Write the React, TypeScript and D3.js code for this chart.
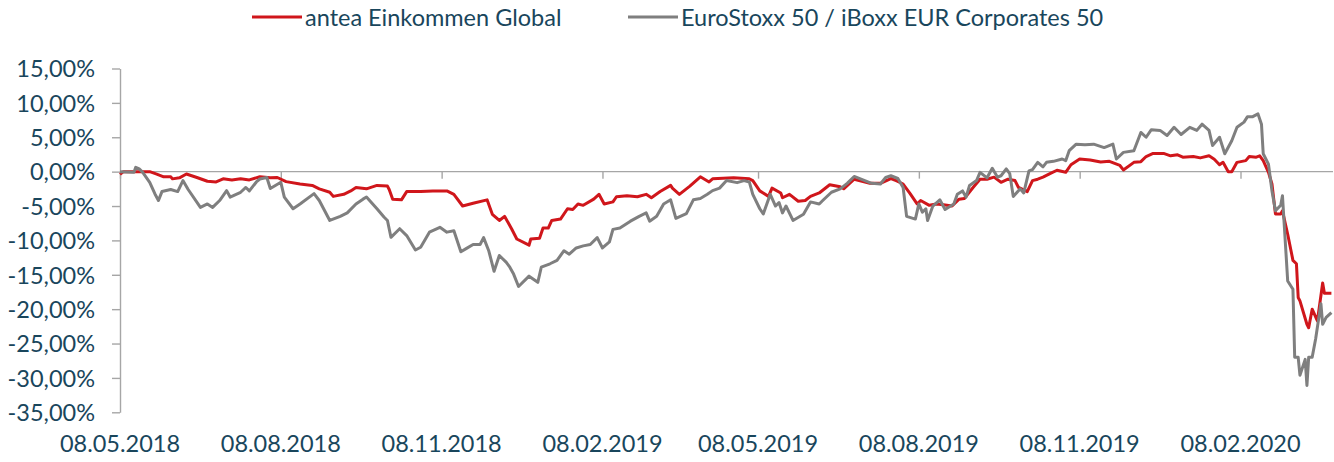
import React, { useEffect, useRef } from 'react';
import * as d3 from 'd3';

const seriesNames = ['antea Einkommen Global', 'EuroStoxx 50 / iBoxx EUR Corporates 50'];
const seriesColors = ['#d0161b', '#7f7f7f'];

const dateRange = ['2018-05-08', '2020-03-31'];
const xTickDates = [
  '2018-05-08', '2018-08-08', '2018-11-08', '2019-02-08',
  '2019-05-08', '2019-08-08', '2019-11-08', '2020-02-08',
];
const yTickValues = [15, 10, 5, 0, -5, -10, -15, -20, -25, -30, -35];

// performance in %
const anteaValues: [string, number][] = [
  ['2018-05-08', -0.4], ['2018-05-10', 0], ['2018-05-19', 0], ['2018-05-25', 0], ['2018-05-29', -0.35],
  ['2018-06-02', -0.75], ['2018-06-06', -0.75], ['2018-06-07', -1.05], ['2018-06-11', -0.9], ['2018-06-15', -0.35],
  ['2018-06-21', -0.85], ['2018-06-27', -1.4], ['2018-07-02', -1.5], ['2018-07-06', -1.05], ['2018-07-11', -1.2],
  ['2018-07-16', -1.05], ['2018-07-21', -1.2], ['2018-07-27', -0.75], ['2018-08-02', -0.9], ['2018-08-06', -0.85],
  ['2018-08-11', -1.45], ['2018-08-19', -1.8], ['2018-08-26', -2.0], ['2018-08-30', -2.5], ['2018-09-05', -3.0],
  ['2018-09-07', -3.6], ['2018-09-13', -3.3], ['2018-09-17', -2.8], ['2018-09-20', -2.3], ['2018-09-26', -2.5],
  ['2018-10-02', -2.0], ['2018-10-08', -2.1], ['2018-10-09', -2.6], ['2018-10-11', -4.0], ['2018-10-16', -4.1],
  ['2018-10-19', -2.9], ['2018-10-27', -2.9], ['2018-11-03', -2.8], ['2018-11-11', -2.8], ['2018-11-15', -3.3],
  ['2018-11-20', -5.0], ['2018-11-26', -4.6], ['2018-12-04', -4.1], ['2018-12-07', -6.2], ['2018-12-11', -7.1],
  ['2018-12-14', -6.5], ['2018-12-18', -8.3], ['2018-12-21', -9.8], ['2018-12-28', -10.7], ['2018-12-29', -9.8],
  ['2019-01-03', -9.7], ['2019-01-05', -8.2], ['2019-01-08', -8.2], ['2019-01-10', -7.1], ['2019-01-15', -6.9],
  ['2019-01-19', -5.4], ['2019-01-22', -5.5], ['2019-01-25', -4.7], ['2019-01-28', -4.9], ['2019-02-03', -4.0],
  ['2019-02-06', -3.3], ['2019-02-09', -4.7], ['2019-02-14', -4.4], ['2019-02-16', -3.65], ['2019-02-22', -3.5],
  ['2019-02-28', -3.65], ['2019-03-05', -3.3], ['2019-03-08', -3.8], ['2019-03-13', -2.9], ['2019-03-19', -2.0],
  ['2019-03-20', -2.4], ['2019-03-24', -3.3], ['2019-03-30', -2.1], ['2019-04-05', -0.75], ['2019-04-10', -1.5],
  ['2019-04-12', -1.05], ['2019-04-24', -0.9], ['2019-05-03', -1.05], ['2019-05-05', -1.3], ['2019-05-09', -2.8],
  ['2019-05-14', -3.6], ['2019-05-16', -2.4], ['2019-05-21', -3.1], ['2019-05-22', -3.8], ['2019-05-26', -3.3],
  ['2019-05-31', -4.3], ['2019-06-04', -4.2], ['2019-06-07', -3.6], ['2019-06-12', -3.1], ['2019-06-18', -1.9],
  ['2019-06-24', -2.2], ['2019-06-26', -2.5], ['2019-07-02', -1.1], ['2019-07-11', -1.7], ['2019-07-17', -1.7],
  ['2019-07-23', -1.0], ['2019-07-26', -1.3], ['2019-07-30', -1.8], ['2019-08-03', -3.2], ['2019-08-07', -4.7],
  ['2019-08-09', -4.2], ['2019-08-14', -4.9], ['2019-08-18', -4.7], ['2019-08-22', -4.8], ['2019-08-27', -5.0],
  ['2019-08-31', -4.0], ['2019-09-03', -3.9], ['2019-09-08', -2.3], ['2019-09-12', -1.1], ['2019-09-16', -1.1],
  ['2019-09-20', -0.8], ['2019-09-24', -1.55], ['2019-09-28', -1.1], ['2019-10-02', -1.3], ['2019-10-04', -2.3],
  ['2019-10-09', -2.9], ['2019-10-12', -1.3], ['2019-10-15', -1.1], ['2019-10-18', -0.8], ['2019-10-22', -0.3],
  ['2019-10-26', 0.2], ['2019-10-31', -0.1], ['2019-11-03', 1.0], ['2019-11-08', 1.85], ['2019-11-14', 1.7],
  ['2019-11-20', 1.4], ['2019-11-25', 1.5], ['2019-12-01', 0.9], ['2019-12-03', 0.25], ['2019-12-09', 1.35],
  ['2019-12-13', 1.45], ['2019-12-16', 2.2], ['2019-12-20', 2.65], ['2019-12-26', 2.65], ['2019-12-30', 2.3],
  ['2020-01-03', 2.45], ['2020-01-06', 2.1], ['2020-01-12', 2.2], ['2020-01-16', 2.0], ['2020-01-21', 2.3],
  ['2020-01-24', 1.8], ['2020-01-27', 1.0], ['2020-01-29', 1.35], ['2020-02-01', 0.0], ['2020-02-03', 0.0],
  ['2020-02-06', 1.35], ['2020-02-11', 1.6], ['2020-02-13', 2.2], ['2020-02-17', 2.1], ['2020-02-19', 2.3],
  ['2020-02-21', 1.6], ['2020-02-24', -0.1], ['2020-02-26', -1.8], ['2020-02-28', -6.15], ['2020-03-02', -6.15],
  ['2020-03-03', -5.7], ['2020-03-06', -9.1], ['2020-03-09', -12.9], ['2020-03-11', -13.4], ['2020-03-12', -18.3],
  ['2020-03-13', -18.8], ['2020-03-17', -22.2], ['2020-03-18', -22.7], ['2020-03-20', -20.0], ['2020-03-23', -21.7],
  ['2020-03-26', -16.2], ['2020-03-27', -17.7], ['2020-03-31', -17.7],
];

const benchmarkValues: [string, number][] = [
  ['2018-05-08', 0], ['2018-05-16', -0.1], ['2018-05-17', 0.63], ['2018-05-19', 0.4], ['2018-05-21', -0.1],
  ['2018-05-25', -1.55], ['2018-05-28', -3.25], ['2018-05-30', -4.2], ['2018-06-01', -2.9], ['2018-06-06', -2.6],
  ['2018-06-10', -2.9], ['2018-06-13', -1.3], ['2018-06-16', -2.6], ['2018-06-23', -5.2], ['2018-06-27', -4.7],
  ['2018-06-30', -5.2], ['2018-07-04', -4.2], ['2018-07-08', -2.76], ['2018-07-10', -3.7], ['2018-07-16', -3.0],
  ['2018-07-19', -2.3], ['2018-07-21', -2.8], ['2018-07-25', -1.5], ['2018-07-27', -1.07], ['2018-07-31', -0.85],
  ['2018-08-02', -2.45], ['2018-08-08', -1.55], ['2018-08-10', -3.7], ['2018-08-15', -5.4], ['2018-08-19', -4.7],
  ['2018-08-27', -3.2], ['2018-08-30', -4.2], ['2018-09-05', -7.1], ['2018-09-11', -6.5], ['2018-09-15', -6.0],
  ['2018-09-20', -4.7], ['2018-09-24', -4.0], ['2018-09-26', -3.7], ['2018-10-02', -5.4], ['2018-10-06', -6.6],
  ['2018-10-08', -7.1], ['2018-10-10', -9.55], ['2018-10-15', -8.3], ['2018-10-19', -9.3], ['2018-10-24', -11.4],
  ['2018-10-27', -11.0], ['2018-11-01', -8.8], ['2018-11-07', -8.1], ['2018-11-11', -8.8], ['2018-11-15', -8.6],
  ['2018-11-19', -11.65], ['2018-11-22', -11.2], ['2018-11-26', -10.6], ['2018-11-30', -10.6], ['2018-12-02', -9.6],
  ['2018-12-05', -11.55], ['2018-12-08', -14.5], ['2018-12-11', -12.2], ['2018-12-15', -13.2], ['2018-12-17', -13.9],
  ['2018-12-19', -14.8], ['2018-12-22', -16.7], ['2018-12-28', -15.2], ['2019-01-02', -16.1], ['2019-01-04', -13.9],
  ['2019-01-09', -13.4], ['2019-01-13', -12.9], ['2019-01-17', -11.5], ['2019-01-20', -12.0], ['2019-01-24', -11.1],
  ['2019-01-28', -10.8], ['2019-02-01', -10.6], ['2019-02-05', -9.6], ['2019-02-08', -11.1], ['2019-02-12', -10.2],
  ['2019-02-14', -8.4], ['2019-02-18', -8.2], ['2019-02-24', -7.2], ['2019-03-01', -6.5], ['2019-03-05', -6.0],
  ['2019-03-07', -7.2], ['2019-03-11', -6.5], ['2019-03-15', -4.7], ['2019-03-19', -4.1], ['2019-03-22', -6.8],
  ['2019-03-28', -6.1], ['2019-04-01', -4.1], ['2019-04-05', -3.9], ['2019-04-09', -3.3], ['2019-04-12', -2.76],
  ['2019-04-16', -2.4], ['2019-04-20', -1.3], ['2019-04-26', -1.6], ['2019-04-30', -1.3], ['2019-05-03', -1.5],
  ['2019-05-05', -3.3], ['2019-05-09', -5.4], ['2019-05-11', -6.15], ['2019-05-15', -3.3], ['2019-05-18', -5.0],
  ['2019-05-20', -4.5], ['2019-05-22', -6.0], ['2019-05-24', -5.0], ['2019-05-28', -7.1], ['2019-06-03', -6.2],
  ['2019-06-07', -4.4], ['2019-06-12', -4.7], ['2019-06-14', -4.2], ['2019-06-19', -3.0], ['2019-06-24', -2.5],
  ['2019-06-28', -1.7], ['2019-07-02', -0.7], ['2019-07-07', -1.2], ['2019-07-12', -1.7], ['2019-07-17', -1.8],
  ['2019-07-20', -0.85], ['2019-07-23', -0.6], ['2019-07-27', -1.0], ['2019-07-30', -2.3], ['2019-08-01', -6.5],
  ['2019-08-06', -6.9], ['2019-08-08', -4.7], ['2019-08-10', -5.9], ['2019-08-12', -5.4], ['2019-08-13', -7.1],
  ['2019-08-16', -5.0], ['2019-08-20', -4.1], ['2019-08-23', -5.5], ['2019-08-28', -4.7], ['2019-08-30', -3.3],
  ['2019-09-02', -2.8], ['2019-09-04', -3.7], ['2019-09-06', -2.0], ['2019-09-10', -1.3], ['2019-09-12', -0.1],
  ['2019-09-16', -0.9], ['2019-09-19', 0.5], ['2019-09-22', -0.8], ['2019-09-24', -0.6], ['2019-09-27', 0.4],
  ['2019-09-29', -0.3], ['2019-10-01', -3.6], ['2019-10-05', -2.5], ['2019-10-07', -3.1], ['2019-10-10', 0.1],
  ['2019-10-12', 0.3], ['2019-10-15', 1.35], ['2019-10-18', 0.7], ['2019-10-20', 1.35], ['2019-10-24', 1.5],
  ['2019-10-29', 1.84], ['2019-10-31', 1.6], ['2019-11-02', 3.05], ['2019-11-06', 4.0], ['2019-11-11', 3.9],
  ['2019-11-16', 4.0], ['2019-11-22', 3.5], ['2019-11-27', 4.0], ['2019-11-29', 1.84], ['2019-12-03', 2.8],
  ['2019-12-09', 3.05], ['2019-12-13', 5.7], ['2019-12-16', 5.0], ['2019-12-19', 6.1], ['2019-12-24', 6.0],
  ['2019-12-28', 5.25], ['2020-01-01', 6.45], ['2020-01-05', 5.4], ['2020-01-10', 6.45], ['2020-01-14', 6.0],
  ['2020-01-17', 6.9], ['2020-01-21', 6.0], ['2020-01-23', 3.8], ['2020-01-27', 5.0], ['2020-01-30', 2.6],
  ['2020-02-03', 4.5], ['2020-02-06', 6.45], ['2020-02-10', 7.2], ['2020-02-12', 8.0], ['2020-02-15', 8.0],
  ['2020-02-18', 8.4], ['2020-02-20', 6.9], ['2020-02-21', 2.6], ['2020-02-24', 1.1], ['2020-02-26', -2.8],
  ['2020-02-28', -5.7], ['2020-03-02', -4.9], ['2020-03-03', -3.5], ['2020-03-06', -15.9], ['2020-03-09', -17.1],
  ['2020-03-10', -27.0], ['2020-03-12', -27.0], ['2020-03-13', -29.6], ['2020-03-16', -27.3], ['2020-03-17', -31.1],
  ['2020-03-18', -27.0], ['2020-03-20', -27.0], ['2020-03-22', -24.3], ['2020-03-25', -19.2], ['2020-03-26', -22.2],
  ['2020-03-28', -21.2], ['2020-03-31', -20.5],
];

const textColor = '#19465c';
const axisColor = '#a6a6a6';
const fontFamily = 'Lato, "Open Sans", sans-serif';

function App() {
  const svgRef = useRef<SVGSVGElement>(null);

  useEffect(() => {
    const width = 1334;
    const height = 462;
    const margin = { top: 68.5, right: 2.6, bottom: 49.7, left: 120 };

    const svg = d3.select(svgRef.current);
    svg.selectAll('*').remove();

    const parse = d3.timeParse('%Y-%m-%d');
    const locale = d3.formatLocale({
      decimal: ',',
      thousands: '.',
      grouping: [3],
      currency: ['', ' €'],
      minus: '-',
    });
    const pct = locale.format('.2f');
    const dateFmt = d3.timeFormat('%d.%m.%Y');

    const x = d3
      .scaleTime()
      .domain(dateRange.map((d) => parse(d) as Date))
      .range([margin.left, width - margin.right]);

    const y = d3
      .scaleLinear()
      .domain([-35, 15])
      .range([height - margin.bottom, margin.top]);

    // y axis
    const yAxis = d3
      .axisLeft(y)
      .tickValues(yTickValues)
      .tickSize(8)
      .tickSizeOuter(0)
      .tickPadding(17)
      .tickFormat((d) => pct(d as number) + '%');

    const yg = svg
      .append('g')
      .attr('transform', `translate(${margin.left},0)`)
      .call(yAxis);
    yg.select('.domain').attr('stroke', axisColor).attr('stroke-width', 1.4);
    yg.selectAll('.tick line').attr('stroke', axisColor).attr('stroke-width', 1.4);
    yg.selectAll('.tick text')
      .attr('fill', textColor)
      .attr('font-family', fontFamily)
      .attr('font-size', 23.5)
      .attr('dy', '0.35em');

    // x axis along the zero line
    const xTicks = xTickDates.map((d) => parse(d) as Date);
    const xAxis = d3
      .axisBottom(x)
      .tickValues(xTicks)
      .tickSize(7)
      .tickSizeOuter(0)
      .tickFormat(() => '');

    const xg = svg
      .append('g')
      .attr('transform', `translate(0,${y(0)})`)
      .call(xAxis);
    xg.select('.domain').remove();
    xg.append('line')
      .attr('x1', margin.left)
      .attr('x2', width - 1)
      .attr('stroke', axisColor)
      .attr('stroke-width', 1.4);
    xg.selectAll('.tick line').attr('stroke', axisColor).attr('stroke-width', 1.4);

    // date labels at the bottom
    svg
      .append('g')
      .selectAll('text')
      .data(xTicks)
      .enter()
      .append('text')
      .attr('x', (d) => x(d))
      .attr('y', height - 19)
      .attr('text-anchor', 'middle')
      .attr('dominant-baseline', 'central')
      .attr('fill', textColor)
      .attr('font-family', fontFamily)
      .attr('font-size', 23.5)
      .text((d) => dateFmt(d));

    // lines
    const line = d3
      .line<[string, number]>()
      .x((d) => x(parse(d[0]) as Date))
      .y((d) => y(d[1]));

    [anteaValues, benchmarkValues].forEach((series, i) => {
      svg
        .append('path')
        .datum(series)
        .attr('fill', 'none')
        .attr('stroke', seriesColors[i])
        .attr('stroke-width', 3)
        .attr('stroke-linejoin', 'round')
        .attr('d', line);
    });

    // legend
    const legendX = [252, 628];
    const legend = svg
      .append('g')
      .selectAll('g')
      .data(seriesNames)
      .enter()
      .append('g')
      .attr('transform', (_, i) => `translate(${legendX[i]},17)`);
    legend
      .append('line')
      .attr('x1', 0)
      .attr('x2', 50)
      .attr('stroke', (_, i) => seriesColors[i])
      .attr('stroke-width', 3);
    legend
      .append('text')
      .attr('x', 53)
      .attr('dominant-baseline', 'central')
      .attr('fill', textColor)
      .attr('font-family', fontFamily)
      .attr('font-size', 23.5)
      .text((d) => d);
  }, []);

  return (
    <svg
      ref={svgRef}
      width={1334}
      height={462}
      style={{ position: 'absolute', left: 0, top: 0, background: '#fff' }}
    />
  );
}

export default App;
